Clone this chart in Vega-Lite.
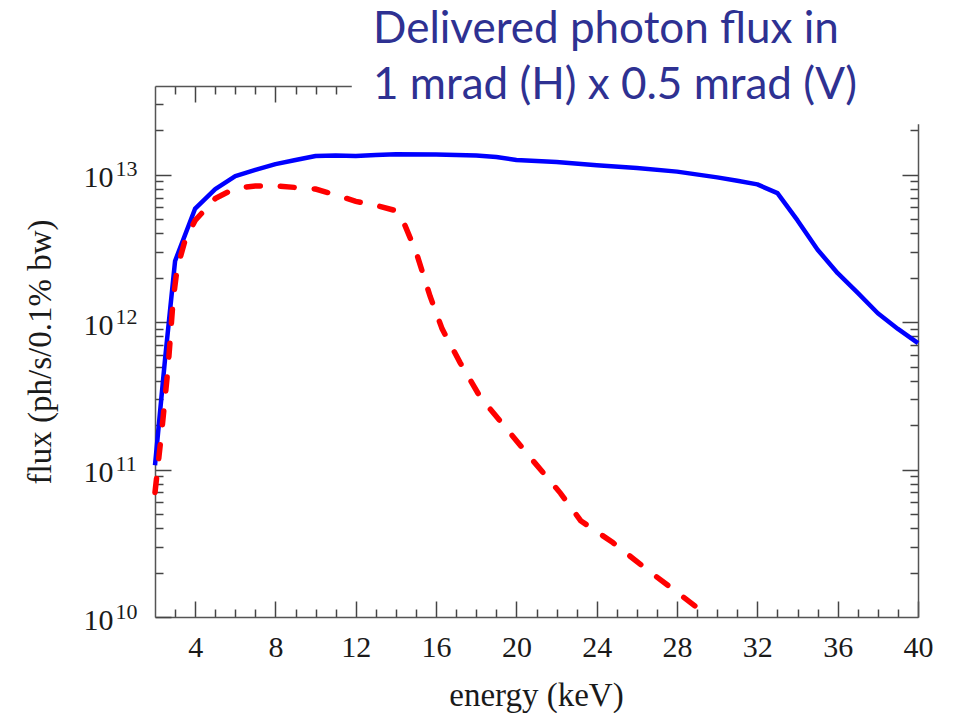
{
  "$schema": "https://vega.github.io/schema/vega-lite/v6.json",
  "width": 763,
  "height": 531,
  "autosize": {"type": "none"},
  "padding": {"left": 155, "top": 86, "right": 36, "bottom": 96},
  "background": "white",
  "config": {
    "view": {"stroke": null},
    "axis": {
      "labelFont": "Liberation Serif",
      "titleFont": "Liberation Serif",
      "labelFontSize": 30,
      "titleFontSize": 33,
      "labelColor": "#1a1a1a",
      "titleColor": "#1a1a1a",
      "titleFontWeight": "normal",
      "domainColor": "#555555",
      "domainWidth": 1.5,
      "tickColor": "#444444",
      "tickWidth": 1.5,
      "grid": false,
      "zindex": 0
    }
  },
  "title": {
    "text": ["Delivered photon flux in", "1 mrad (H) x 0.5 mrad (V)"],
    "anchor": "start",
    "frame": "group",
    "orient": "top",
    "align": "left",
    "dx": 218,
    "offset": -101,
    "font": "Lato",
    "fontSize": 44,
    "fontWeight": "normal",
    "color": "#2e3192",
    "lineHeight": 56,
    "baseline": "alphabetic"
  },
  "data": {
    "values": [
      {"series": "full", "energy": 2.0, "flux": 1.07e11},
      {"series": "full", "energy": 2.5, "flux": 5.6e11},
      {"series": "full", "energy": 3.0, "flux": 2.6e12},
      {"series": "full", "energy": 4.0, "flux": 5.9e12},
      {"series": "full", "energy": 5.0, "flux": 8.0e12},
      {"series": "full", "energy": 6.0, "flux": 9.8e12},
      {"series": "full", "energy": 7.0, "flux": 1.08e13},
      {"series": "full", "energy": 8.0, "flux": 1.18e13},
      {"series": "full", "energy": 9.0, "flux": 1.26e13},
      {"series": "full", "energy": 10.0, "flux": 1.34e13},
      {"series": "full", "energy": 11.0, "flux": 1.35e13},
      {"series": "full", "energy": 12.0, "flux": 1.34e13},
      {"series": "full", "energy": 13.0, "flux": 1.36e13},
      {"series": "full", "energy": 14.0, "flux": 1.38e13},
      {"series": "full", "energy": 16.0, "flux": 1.37e13},
      {"series": "full", "energy": 18.0, "flux": 1.35e13},
      {"series": "full", "energy": 19.0, "flux": 1.32e13},
      {"series": "full", "energy": 20.0, "flux": 1.26e13},
      {"series": "full", "energy": 22.0, "flux": 1.22e13},
      {"series": "full", "energy": 24.0, "flux": 1.16e13},
      {"series": "full", "energy": 26.0, "flux": 1.11e13},
      {"series": "full", "energy": 28.0, "flux": 1.05e13},
      {"series": "full", "energy": 30.0, "flux": 9.6e12},
      {"series": "full", "energy": 31.0, "flux": 9.1e12},
      {"series": "full", "energy": 32.0, "flux": 8.6e12},
      {"series": "full", "energy": 33.0, "flux": 7.5e12},
      {"series": "full", "energy": 34.0, "flux": 4.9e12},
      {"series": "full", "energy": 35.0, "flux": 3.1e12},
      {"series": "full", "energy": 36.0, "flux": 2.15e12},
      {"series": "full", "energy": 37.0, "flux": 1.58e12},
      {"series": "full", "energy": 38.0, "flux": 1.15e12},
      {"series": "full", "energy": 39.0, "flux": 9.0e11},
      {"series": "full", "energy": 40.0, "flux": 7.2e11},
      {"series": "delivered", "energy": 2.0, "flux": 7.0e10},
      {"series": "delivered", "energy": 2.35, "flux": 1.9e11},
      {"series": "delivered", "energy": 2.65, "flux": 4.9e11},
      {"series": "delivered", "energy": 2.9, "flux": 1.4e12},
      {"series": "delivered", "energy": 3.1, "flux": 2.3e12},
      {"series": "delivered", "energy": 3.5, "flux": 3.6e12},
      {"series": "delivered", "energy": 4.0, "flux": 4.9e12},
      {"series": "delivered", "energy": 5.0, "flux": 6.9e12},
      {"series": "delivered", "energy": 6.0, "flux": 8.1e12},
      {"series": "delivered", "energy": 7.0, "flux": 8.4e12},
      {"series": "delivered", "energy": 8.0, "flux": 8.4e12},
      {"series": "delivered", "energy": 10.0, "flux": 8.0e12},
      {"series": "delivered", "energy": 11.0, "flux": 7.3e12},
      {"series": "delivered", "energy": 12.0, "flux": 6.6e12},
      {"series": "delivered", "energy": 13.0, "flux": 6.2e12},
      {"series": "delivered", "energy": 14.0, "flux": 5.7e12},
      {"series": "delivered", "energy": 14.4, "flux": 4.7e12},
      {"series": "delivered", "energy": 15.0, "flux": 3.0e12},
      {"series": "delivered", "energy": 15.7, "flux": 1.5e12},
      {"series": "delivered", "energy": 16.3, "flux": 9.0e11},
      {"series": "delivered", "energy": 17.2, "flux": 5.3e11},
      {"series": "delivered", "energy": 18.2, "flux": 3.1e11},
      {"series": "delivered", "energy": 19.5, "flux": 1.9e11},
      {"series": "delivered", "energy": 20.8, "flux": 1.16e11},
      {"series": "delivered", "energy": 22.2, "flux": 6.9e10},
      {"series": "delivered", "energy": 23.2, "flux": 4.5e10},
      {"series": "delivered", "energy": 24.8, "flux": 3.2e10},
      {"series": "delivered", "energy": 26.5, "flux": 2.1e10},
      {"series": "delivered", "energy": 28.3, "flux": 1.37e10},
      {"series": "delivered", "energy": 29.6, "flux": 1.0e10}
    ]
  },
  "resolve": {"axis": {"x": "independent", "y": "independent"}},
  "layer": [
    {
      "transform": [{"filter": "datum.series === 'full'"}],
      "mark": {"type": "line", "color": "#0000ff", "strokeWidth": 4.5, "strokeJoin": "round"},
      "encoding": {
        "x": {
          "field": "energy", "type": "quantitative",
          "scale": {"domain": [2, 40], "nice": false, "zero": false},
          "axis": {
            "orient": "bottom",
            "title": "energy (keV)",
            "values": [3,4,5,6,7,8,9,10,11,12,13,14,15,16,17,18,19,20,21,22,23,24,25,26,27,28,29,30,31,32,33,34,35,36,37,38,39,40],
            "tickSize": {"condition": {"test": "datum.value % 4 === 0", "value": -16}, "value": -8},
            "labelExpr": "datum.value % 4 === 0 ? datum.label : ''",
            "labelPadding": 31,
            "labelFlush": false,
            "labelOverlap": false,
            "labelBound": false,
            "titleX": 381,
            "titleY": 88,
            "titleAlign": "center",
            "titleBaseline": "alphabetic"
          }
        },
        "y": {
          "field": "flux", "type": "quantitative",
          "scale": {"type": "log", "domain": [1e10, 4e13], "nice": false},
          "axis": {
            "orient": "left",
            "title": "flux (ph/s/0.1% bw)",
            "values": [1e10,2e10,3e10,4e10,5e10,6e10,7e10,8e10,9e10,1e11,2e11,3e11,4e11,5e11,6e11,7e11,8e11,9e11,1e12,2e12,3e12,4e12,5e12,6e12,7e12,8e12,9e12,1e13,2e13,3e13],
            "tickSize": {"condition": {"test": "datum.value === 1e10 || datum.value === 1e11 || datum.value === 1e12 || datum.value === 1e13", "value": -16}, "value": -8},
            "labelExpr": "datum.value === 1e10 || datum.value === 1e11 || datum.value === 1e12 || datum.value === 1e13 ? '10' : ''",
            "labelFontSize": 30,
            "labelPadding": 58,
            "labelBaseline": "middle",
            "labelOffset": 3,
            "labelFlush": false,
            "labelOverlap": false,
            "labelBound": false,
            "titleX": -105,
            "titleY": 265.5,
            "titleAngle": -90,
            "titleAlign": "center",
            "titleBaseline": "alphabetic"
          }
        }
      }
    },
    {
      "transform": [{"filter": "datum.series === 'delivered'"}],
      "mark": {"type": "line", "color": "#ff0000", "strokeWidth": 5.5, "strokeDash": [14, 20], "strokeCap": "round"},
      "encoding": {
        "x": {
          "field": "energy", "type": "quantitative",
          "scale": {"domain": [2, 40], "nice": false, "zero": false},
          "axis": {
            "orient": "top",
            "title": null,
            "labels": false,
            "values": [3,4,5,6,7,8,9,10,11],
            "tickSize": {"condition": {"test": "datum.value % 4 === 0", "value": -16}, "value": -8}
          }
        },
        "y": {
          "field": "flux", "type": "quantitative",
          "scale": {"type": "log", "domain": [1e10, 4e13], "nice": false},
          "axis": {
            "orient": "right",
            "title": null,
            "labels": false,
            "values": [2e10,3e10,4e10,5e10,6e10,7e10,8e10,9e10,1e11,2e11,3e11,4e11,5e11,6e11,7e11,8e11,9e11,1e12,2e12,3e12,4e12,5e12,6e12,7e12,8e12,9e12,1e13,2e13],
            "tickSize": {"condition": {"test": "datum.value === 1e10 || datum.value === 1e11 || datum.value === 1e12 || datum.value === 1e13", "value": -16}, "value": -8}
          }
        }
      }
    },
    {
      "data": {"values": [{}]},
      "mark": {"type": "rect", "color": "white", "clip": false},
      "encoding": {
        "x": {"datum": 11.8, "type": "quantitative", "scale": {"domain": [2, 40], "nice": false, "zero": false}, "axis": null},
        "x2": {"datum": 42},
        "y": {
          "datum": 2.2e13, "type": "quantitative",
          "scale": {"type": "log", "domain": [1e10, 4e13], "nice": false},
          "axis": {
            "orient": "left",
            "title": null,
            "domain": false,
            "ticks": false,
            "values": [1e10, 1e11, 1e12, 1e13],
            "labelExpr": "datum.value === 1e10 ? '10' : datum.value === 1e11 ? '11' : datum.value === 1e12 ? '12' : '13'",
            "labelFontSize": 22,
            "labelAlign": "left",
            "labelPadding": 40,
            "labelBaseline": "middle",
            "labelOffset": -6,
            "labelFlush": false,
            "labelOverlap": false,
            "labelBound": false
          }
        },
        "y2": {"datum": 8e13}
      }
    }
  ]
}
